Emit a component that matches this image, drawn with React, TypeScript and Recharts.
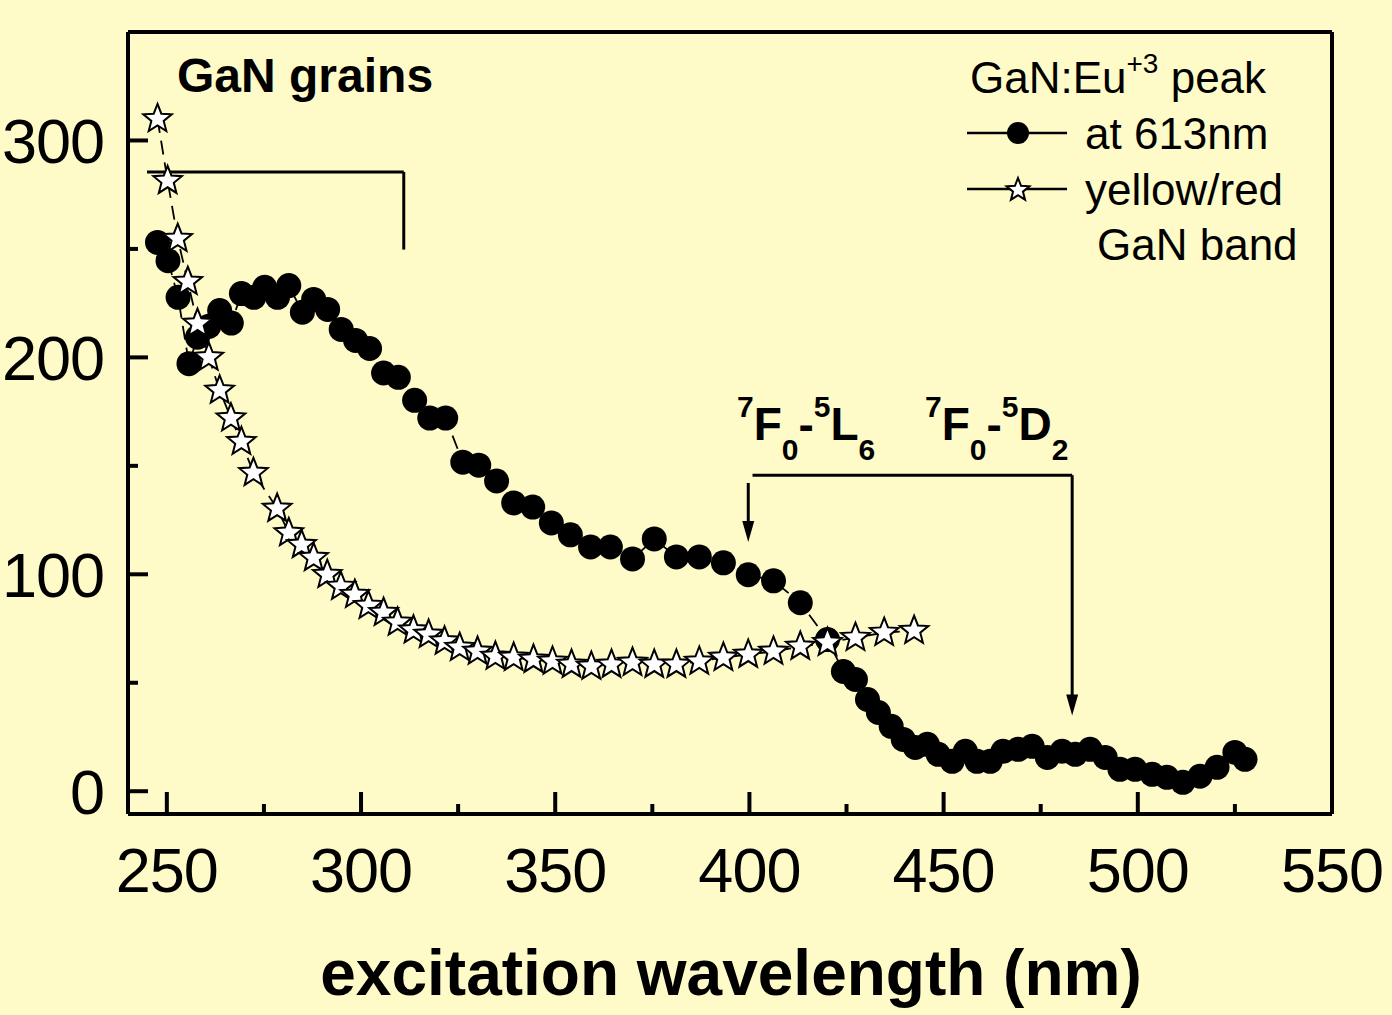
import React from 'react';
import { ComposedChart, Line, XAxis, YAxis, ReferenceLine, Legend, Customized } from 'recharts';

// GaN:Eu+3 peak at 613nm (filled circles)
const eu613Nm = [
  247.6, 250.3, 252.9, 255.7, 257.9, 260.8, 263.6, 266.6, 269.2, 272.4, 275.2, 278.5, 281.4, 284.9,
  287.8, 291.4, 294.9, 298.6, 302.2, 305.8, 309.6, 313.8, 317.7, 321.8, 326.2, 330.3, 334.9, 339.3,
  344.2, 349.0, 353.9, 359.1, 364.2, 369.9, 375.5, 381.2, 387.1, 393.3, 399.7, 406.2, 413.1, 420.1,
  424.2, 427.3, 430.4, 433.2, 436.5, 439.6, 442.7, 445.8, 448.6, 452.2, 455.6, 458.6, 462.0, 465.3,
  469.2, 472.8, 476.7, 480.5, 483.9, 487.7, 491.6, 495.4, 499.3, 503.7, 507.5, 511.6, 516.0, 520.4,
  525.0, 527.6,
];
const eu613Val = [
  253.0, 244.6, 227.7, 197.1, 209.3, 214.3, 221.6, 215.8, 229.4, 227.7, 232.3, 227.7, 233.1, 220.8,
  226.7, 222.1, 212.9, 207.8, 204.1, 192.8, 190.8, 180.2, 172.0, 172.0, 151.7, 150.3, 143.0, 132.9,
  131.0, 123.7, 118.2, 112.6, 112.6, 107.1, 116.3, 108.0, 108.0, 105.3, 99.8, 97.0, 86.9, 69.9,
  55.2, 51.5, 42.3, 36.3, 29.9, 23.9, 20.2, 21.6, 17.0, 13.8, 18.4, 13.8, 13.8, 18.4,
  19.3, 20.7, 15.6, 18.4, 17.0, 19.3, 15.6, 10.1, 10.1, 7.8, 6.4, 4.1, 6.9, 11.0,
  17.9, 14.7,
];

// yellow/red GaN band (stars)
const bandNm = [
  247.6, 250.2, 252.8, 255.4, 257.9, 260.8, 263.6, 266.5, 269.2, 272.3, 278.4, 281.4, 284.7, 287.8,
  291.3, 294.8, 298.4, 301.9, 305.8, 309.4, 313.5, 317.4, 321.5, 325.4, 330.0, 334.6, 339.3, 344.4,
  349.3, 354.2, 359.3, 364.5, 369.9, 375.5, 381.2, 387.1, 393.3, 399.7, 406.2, 413.1, 420.1, 427.3,
  434.7, 442.4,
];
const bandVal = [
  309.9, 281.4, 254.7, 234.9, 215.6, 200.0, 184.8, 172.0, 161.1, 146.8, 130.3, 119.1, 113.6, 107.6,
  99.8, 94.3, 90.6, 85.5, 82.3, 77.8, 74.2, 72.2, 69.1, 66.2, 64.4, 62.1, 61.6, 60.7,
  59.8, 58.4, 57.5, 58.4, 59.3, 58.4, 58.4, 59.8, 61.6, 63.0, 64.4, 66.7, 68.5, 70.8,
  73.1, 74.0,
];

const xMajorTicks = [250, 300, 350, 400, 450, 500, 550];
const xMinorTicks = [275, 325, 375, 425, 475, 525];
const yMajorTicks = [0, 100, 200, 300];
const yMinorTicks = [50, 150, 250];

const eu613Data = eu613Nm.map((nm, i) => ({ nm, v: eu613Val[i] }));
const bandData = bandNm.map((nm, i) => ({ nm, v: bandVal[i] }));

const BG = '#FFFBC8';
const FONT = '"Liberation Sans", Arial, Helvetica, sans-serif';
const X_DOMAIN: [number, number] = [240, 550];
const Y_DOMAIN: [number, number] = [-10.5, 350];

function starPath(cx: number, cy: number, R: number, r: number) {
  let d = '';
  for (let i = 0; i < 10; i++) {
    const a = -Math.PI / 2 + (i * Math.PI) / 5;
    const rad = i % 2 === 0 ? R : r;
    d += (i === 0 ? 'M' : 'L') + (cx + rad * Math.cos(a)).toFixed(2) + ',' + (cy + rad * Math.sin(a)).toFixed(2);
  }
  return d + 'Z';
}

const CircleDot = (props: any) => {
  const { cx, cy, index } = props;
  if (cx == null || cy == null) return <g key={`c-${index}`} />;
  return <circle key={`c-${index}`} cx={cx} cy={cy} r={12.5} fill="#000" />;
};

const StarDot = (props: any) => {
  const { cx, cy, index } = props;
  if (cx == null || cy == null) return <g key={`s-${index}`} />;
  return (
    <path
      key={`s-${index}`}
      d={starPath(cx, cy, 15, 6.5)}
      fill="#fff"
      stroke="#000"
      strokeWidth={2}
      strokeLinejoin="miter"
    />
  );
};

const ArrowDown = (props: any) => {
  const { x1, y1, x2, y2 } = props;
  return (
    <g>
      <line x1={x1} y1={y1} x2={x2} y2={y2 - 14} stroke="#000" strokeWidth={3} />
      <polygon points={`${x2 - 6},${y2 - 21} ${x2 + 6},${y2 - 21} ${x2},${y2}`} fill="#000" />
    </g>
  );
};

const LegendBox = (props: any) => {
  const payload = props.payload || [];
  const names = payload.map((p: any) => p.value);
  return (
    <svg width={380} height={240} style={{ overflow: 'visible', fontFamily: FONT }}>
      <text x={15} y={53} fontSize={44} fill="#000">
        GaN:Eu
        <tspan fontSize={28} dy={-20}>+3</tspan>
        <tspan dy={20}> peak</tspan>
      </text>
      <line x1={12} y1={93} x2={112} y2={93} stroke="#000" strokeWidth={2.5} />
      <circle cx={63} cy={93} r={11} fill="#000" />
      <text x={130} y={109} fontSize={44} fill="#000">{names[0] ?? 'at 613nm'}</text>
      <line x1={12} y1={149} x2={112} y2={149} stroke="#000" strokeWidth={2.5} />
      <path d={starPath(63, 150, 12, 5.2)} fill="#fff" stroke="#000" strokeWidth={2} />
      <text x={130} y={165} fontSize={44} fill="#000">{names[1] ?? 'yellow/red'}</text>
      <text x={142} y={220} fontSize={44} fill="#000">GaN band</text>
    </svg>
  );
};

const Transition = ({ x, y, sub2, main2, sub3 }: { x: number; y: number; sub2: string; main2: string; sub3: string }) => (
  <text x={x} y={y} fontFamily={FONT} fontWeight="bold" fontSize={46} fill="#000">
    <tspan fontSize={30} dy={-23}>7</tspan>
    <tspan dy={23}>F</tspan>
    <tspan fontSize={30} dy={20}>{sub2}</tspan>
    <tspan dy={-20}>-</tspan>
    <tspan fontSize={30} dy={-23}>5</tspan>
    <tspan dy={23}>{main2}</tspan>
    <tspan fontSize={30} dy={20}>{sub3}</tspan>
  </text>
);

const Annotations = () => (
  <g>
    <text x={177} y={92} fontFamily={FONT} fontWeight="bold" fontSize={48} fill="#000">
      GaN grains
    </text>
    <Transition x={737} y={440} sub2="0" main2="L" sub3="6" />
    <Transition x={925} y={440} sub2="0" main2="D" sub3="2" />
    <text x={731} y={995} textAnchor="middle" fontFamily={FONT} fontWeight="bold" fontSize={64} fill="#000">
      excitation wavelength (nm)
    </text>
  </g>
);

export default function App() {
  const tickStyle = { fill: '#000', fontSize: 63, fontFamily: FONT, letterSpacing: -1 };
  return (
    <div style={{ position: 'absolute', left: 0, top: 0, width: 1392, height: 1015, background: BG }}>
      <ComposedChart
        width={1392}
        height={1015}
        margin={{ top: 31, right: 59, bottom: 199, left: 126 }}
        style={{ background: BG }}
      >
        <XAxis
          xAxisId="major"
          type="number"
          dataKey="nm"
          domain={X_DOMAIN}
          allowDataOverflow
          ticks={xMajorTicks}
          interval={0}
          height={1}
          tickSize={-22}
          tickMargin={55}
          axisLine={{ stroke: '#000', strokeWidth: 4 }}
          tickLine={{ stroke: '#000', strokeWidth: 4 }}
          tick={tickStyle}
        />
        <XAxis
          xAxisId="minor"
          type="number"
          dataKey="nm"
          domain={X_DOMAIN}
          allowDataOverflow
          ticks={xMinorTicks}
          interval={0}
          height={1}
          tickSize={-11}
          axisLine={false}
          tickLine={{ stroke: '#000', strokeWidth: 4 }}
          tickFormatter={() => ''}
        />
        <XAxis
          xAxisId="top"
          orientation="top"
          type="number"
          domain={X_DOMAIN}
          height={1}
          ticks={xMajorTicks}
          tick={false}
          tickLine={false}
          axisLine={{ stroke: '#000', strokeWidth: 4 }}
        />
        <YAxis
          yAxisId="major"
          type="number"
          domain={Y_DOMAIN}
          allowDataOverflow
          ticks={yMajorTicks}
          interval={0}
          width={1}
          tickSize={-20}
          tickMargin={44}
          axisLine={{ stroke: '#000', strokeWidth: 4 }}
          tickLine={{ stroke: '#000', strokeWidth: 4 }}
          tick={tickStyle}
        />
        <YAxis
          yAxisId="minor"
          type="number"
          domain={Y_DOMAIN}
          allowDataOverflow
          ticks={yMinorTicks}
          interval={0}
          width={1}
          tickSize={-11}
          axisLine={false}
          tickLine={{ stroke: '#000', strokeWidth: 4 }}
          tickFormatter={() => ''}
        />
        <YAxis
          yAxisId="right"
          orientation="right"
          type="number"
          domain={Y_DOMAIN}
          width={1}
          ticks={yMajorTicks}
          tick={false}
          tickLine={false}
          axisLine={{ stroke: '#000', strokeWidth: 4 }}
        />

        <ReferenceLine xAxisId="major" yAxisId="major" segment={[{ x: 244.9, y: 285.5 }, { x: 311.0, y: 285.5 }]} stroke="#000" strokeWidth={3} />
        <ReferenceLine xAxisId="major" yAxisId="major" segment={[{ x: 311.0, y: 285.5 }, { x: 311.0, y: 249.7 }]} stroke="#000" strokeWidth={3} />
        <ReferenceLine xAxisId="major" yAxisId="major" segment={[{ x: 400.8, y: 145.7 }, { x: 483.1, y: 145.7 }]} stroke="#000" strokeWidth={3} />
        <ReferenceLine xAxisId="major" yAxisId="major" segment={[{ x: 483.1, y: 145.7 }, { x: 483.1, y: 34.9 }]} shape={ArrowDown} />
        <ReferenceLine xAxisId="major" yAxisId="major" segment={[{ x: 399.7, y: 142.1 }, { x: 399.7, y: 114.9 }]} shape={ArrowDown} />

        <Line
          xAxisId="major"
          yAxisId="major"
          data={eu613Data}
          dataKey="v"
          name="at 613nm"
          type="linear"
          stroke="#000"
          strokeWidth={1.8}
          strokeDasharray="14 8"
          dot={CircleDot}
          activeDot={false}
          isAnimationActive={false}
        />
        <Line
          xAxisId="major"
          yAxisId="major"
          data={bandData}
          dataKey="v"
          name="yellow/red"
          type="linear"
          stroke="#000"
          strokeWidth={1.8}
          strokeDasharray="14 8"
          dot={StarDot}
          activeDot={false}
          isAnimationActive={false}
        />
        <Legend
          layout="horizontal"
          align="center"
          verticalAlign="middle"
          content={LegendBox}
          wrapperStyle={{ left: 955, top: 40, width: 380, height: 240 }}
        />
        <Customized component={Annotations} />
      </ComposedChart>
    </div>
  );
}
